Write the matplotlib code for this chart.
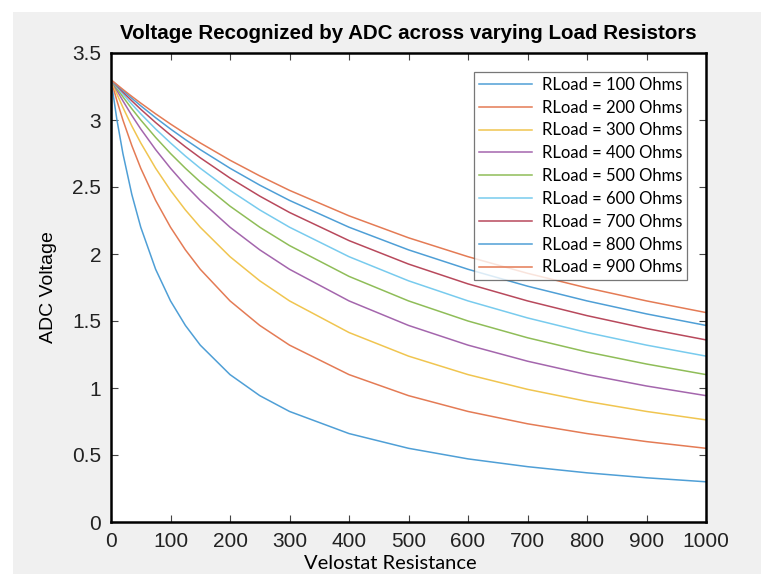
import numpy as np
import matplotlib
matplotlib.use("Agg")
import matplotlib.pyplot as plt
from matplotlib.patches import Rectangle

r_velostat = [0, 10, 20, 35, 50, 75, 100, 125, 150, 200, 250, 300,
              400, 500, 600, 700, 800, 900, 1000]

# ADC voltage read for each load resistor
v_100 = [3.3, 3.0, 2.75, 2.444, 2.2, 1.886, 1.65, 1.467, 1.32, 1.1, 0.943, 0.825,
         0.66, 0.55, 0.471, 0.413, 0.367, 0.33, 0.3]
v_200 = [3.3, 3.143, 3.0, 2.809, 2.64, 2.4, 2.2, 2.031, 1.886, 1.65, 1.467, 1.32,
         1.1, 0.943, 0.825, 0.733, 0.66, 0.6, 0.55]
v_300 = [3.3, 3.194, 3.094, 2.955, 2.829, 2.64, 2.475, 2.329, 2.2, 1.98, 1.8, 1.65,
         1.414, 1.238, 1.1, 0.99, 0.9, 0.825, 0.762]
v_400 = [3.3, 3.22, 3.143, 3.034, 2.933, 2.779, 2.64, 2.514, 2.4, 2.2, 2.031, 1.886,
         1.65, 1.467, 1.32, 1.2, 1.1, 1.015, 0.943]
v_500 = [3.3, 3.235, 3.173, 3.084, 3.0, 2.87, 2.75, 2.64, 2.538, 2.357, 2.2, 2.063,
         1.833, 1.65, 1.5, 1.375, 1.269, 1.179, 1.1]
v_600 = [3.3, 3.246, 3.194, 3.118, 3.046, 2.933, 2.829, 2.731, 2.64, 2.475, 2.329, 2.2,
         1.98, 1.8, 1.65, 1.523, 1.414, 1.32, 1.238]
v_700 = [3.3, 3.254, 3.208, 3.143, 3.08, 2.981, 2.888, 2.8, 2.718, 2.567, 2.432, 2.31,
         2.1, 1.925, 1.777, 1.65, 1.54, 1.444, 1.359]
v_800 = [3.3, 3.259, 3.22, 3.162, 3.106, 3.017, 2.933, 2.854, 2.779, 2.64, 2.514, 2.4,
         2.2, 2.031, 1.886, 1.76, 1.65, 1.553, 1.467]
v_900 = [3.3, 3.264, 3.228, 3.176, 3.126, 3.046, 2.97, 2.898, 2.829, 2.7, 2.583, 2.475,
         2.285, 2.121, 1.98, 1.856, 1.747, 1.65, 1.563]

loads = [100, 200, 300, 400, 500, 600, 700, 800, 900]
voltages = [v_100, v_200, v_300, v_400, v_500, v_600, v_700, v_800, v_900]
labels = ["RLoad = %d Ohms" % r for r in loads]

# matlab default order, a bit washed out like the screenshot
colors = ["#4f9fd6", "#e47b55", "#f0c550", "#a466ad", "#8fbd58",
          "#78cbee", "#b8495c", "#4f9fd6", "#e47b55"]

fig = plt.figure(figsize=(7.61, 5.74), dpi=100, facecolor="white")
# grey matlab figure background with a thin white margin
fig.patches.append(Rectangle((13 / 761, 0), 1, 1 - 12 / 574, transform=fig.transFigure,
                             facecolor="#f0f0f0", edgecolor="none", zorder=-10))

ax = fig.add_axes([111 / 761, 1 - 522 / 574, 595 / 761, 469 / 574])
ax.set_facecolor("white")

for v, c, lab in zip(voltages, colors, labels):
    ax.plot(r_velostat, v, color=c, lw=1.1, label=lab)

ax.set_xlim(0, 1000)
ax.set_ylim(0, 3.5)
ax.set_xticks(np.arange(0, 1001, 100))
ax.set_yticks(np.arange(0, 3.51, 0.5))
ax.set_yticklabels(["0", "0.5", "1", "1.5", "2", "2.5", "3", "3.5"])

for s in ax.spines.values():
    s.set_linewidth(1.8)
    s.set_color("black")

ax.tick_params(direction="in", top=True, right=True, length=5, width=0.8,
               color="#444444", labelsize=15, pad=7)
for t in ax.get_xticklabels() + ax.get_yticklabels():
    t.set_family("Liberation Sans")
    t.set_color("#222222")

ax.set_title("Voltage Recognized by ADC across varying Load Resistors",
             fontfamily="Liberation Sans", fontweight="bold", fontsize=14.8, pad=10)
ax.set_xlabel("Velostat Resistance", fontfamily="Lato", fontsize=14.5)
ax.set_ylabel("ADC Voltage", fontfamily="Liberation Sans", fontsize=14)
ax.xaxis.set_label_coords(0.469, -0.071)
ax.yaxis.set_label_coords(-0.09, 0.5)

leg = ax.legend(loc="upper right", bbox_to_anchor=(0.968, 0.96),
                prop={"family": "Lato", "size": 12}, frameon=True, fancybox=False,
                edgecolor="#555555", handlelength=3.2, handletextpad=0.55,
                labelspacing=0.41, borderpad=0.3, borderaxespad=0)
leg.get_frame().set_linewidth(0.9)

fig.savefig("out.png", dpi=100, facecolor=fig.get_facecolor())
